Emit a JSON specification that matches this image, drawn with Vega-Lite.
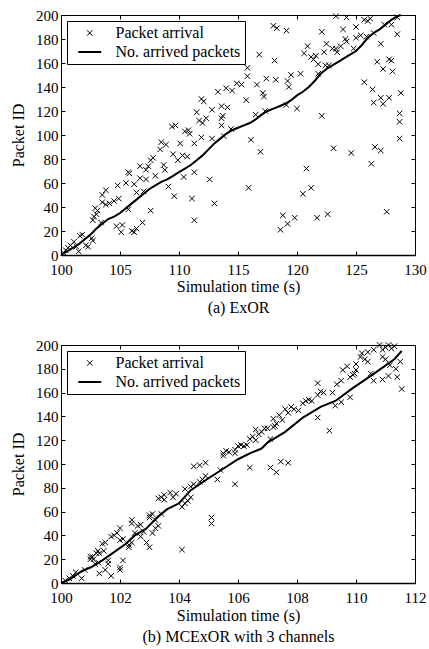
{
  "$schema": "https://vega.github.io/schema/vega-lite/v6.json",
  "padding": {"left": 10, "top": 7, "right": 3, "bottom": 2},
  "background": "white",
  "spacing": 21,
  "resolve": {"scale": {"shape": "independent", "size": "independent", "strokeWidth": "independent"}, "legend": {"shape": "independent", "size": "independent", "strokeWidth": "independent"}},
  "config": {
    "font": "Liberation Serif",
    "view": {"stroke": "black", "strokeWidth": 1},
    "axis": {
      "labelFont": "Liberation Serif", "titleFont": "Liberation Serif",
      "labelFontSize": 15, "titleFontSize": 16, "titleFontWeight": "normal",
      "labelColor": "black", "titleColor": "black", "grid": false, "domain": false,
      "tickColor": "black", "tickSize": -4, "tickWidth": 1, "labelFlush": false
    },
    "axisBottom": {"labelPadding": 11.5, "titlePadding": 1, "titleLineHeight": 21, "domain": true, "domainColor": "black", "domainWidth": 1.5},
    "axisLeft": {"labelPadding": 7, "titlePadding": 9},
    "legend": {
      "orient": "top-left", "offset": 6, "strokeColor": "black", "fillColor": "white",
      "padding": 4, "labelFont": "Liberation Serif", "labelFontSize": 16, "labelColor": "black",
      "symbolOffset": 10.75, "labelOffset": 17.75, "rowPadding": 3, "title": null
    }
  },
  "datasets": {
    "top_pts": [
      {"t":111.9,"id":130},{"t":112.1,"id":128},{"t":111.5,"id":119},{"t":111.7,"id":112},{"t":112.0,"id":110},{"t":112.3,"id":114},{"t":112.8,"id":121},{"t":113.6,"id":124},{"t":114.1,"id":123},{"t":113.6,"id":114},{"t":113.7,"id":116},{"t":113.6,"id":108},{"t":113.3,"id":136},{"t":114.0,"id":139},{"t":114.5,"id":137},{"t":114.9,"id":143},{"t":109.4,"id":107},{"t":109.7,"id":108},{"t":110.5,"id":103},{"t":110.8,"id":104},{"t":110.9,"id":101},{"t":111.3,"id":93},{"t":111.9,"id":98},{"t":112.8,"id":97},{"t":113.8,"id":99},{"t":114.4,"id":105},{"t":110.1,"id":93},{"t":108.5,"id":94},{"t":108.9,"id":92},{"t":109.5,"id":84},{"t":109.9,"id":79},{"t":110.3,"id":83},{"t":110.7,"id":82},{"t":108.4,"id":88},{"t":107.8,"id":81},{"t":107.6,"id":79},{"t":107.4,"id":74},{"t":106.7,"id":74},{"t":107.2,"id":71},{"t":108.7,"id":75},{"t":108.8,"id":71},{"t":108.0,"id":66},{"t":105.7,"id":69},{"t":105.8,"id":68},{"t":105.5,"id":60},{"t":106.2,"id":59},{"t":106.7,"id":64},{"t":107.2,"id":63},{"t":106.4,"id":52},{"t":107.0,"id":53},{"t":104.8,"id":58},{"t":103.5,"id":50},{"t":103.8,"id":54},{"t":110.4,"id":65},{"t":111.3,"id":69},{"t":112.6,"id":63},{"t":109.1,"id":57},{"t":109.6,"id":49},{"t":111.1,"id":47},{"t":113.0,"id":43},{"t":111.3,"id":29},{"t":107.6,"id":37},{"t":105.7,"id":38},{"t":103.5,"id":44},{"t":103.8,"id":42},{"t":104.1,"id":43},{"t":104.5,"id":45},{"t":104.9,"id":47},{"t":102.9,"id":39},{"t":103.1,"id":37},{"t":103.0,"id":34},{"t":102.7,"id":29},{"t":102.8,"id":32},{"t":103.4,"id":27},{"t":104.7,"id":24},{"t":105.2,"id":25},{"t":105.1,"id":19},{"t":106.0,"id":20},{"t":106.2,"id":19},{"t":106.4,"id":22},{"t":106.9,"id":27},{"t":101.8,"id":17},{"t":101.6,"id":16},{"t":101.1,"id":11},{"t":100.8,"id":8},{"t":101.3,"id":7},{"t":102.1,"id":8},{"t":102.6,"id":14},{"t":102.7,"id":12},{"t":100.4,"id":4},{"t":100.6,"id":6},{"t":101.5,"id":3},{"t":102.3,"id":7},{"t":100.2,"id":2},
      {"t":123.3,"id":199},{"t":124.2,"id":198},{"t":125.7,"id":196},{"t":126.0,"id":195},{"t":126.2,"id":197},{"t":127.4,"id":192},{"t":128.0,"id":192},{"t":128.5,"id":198},{"t":118.0,"id":191},{"t":118.3,"id":189},{"t":119.1,"id":187},{"t":122.1,"id":186},{"t":123.9,"id":188},{"t":125.0,"id":190},{"t":124.1,"id":180},{"t":124.2,"id":178},{"t":125.0,"id":181},{"t":125.4,"id":183},{"t":125.9,"id":182},{"t":126.5,"id":185},{"t":128.5,"id":184},{"t":120.9,"id":174},{"t":122.5,"id":176},{"t":123.0,"id":172},{"t":123.3,"id":172},{"t":123.7,"id":174},{"t":123.4,"id":169},{"t":124.8,"id":172},{"t":127.1,"id":176},{"t":120.6,"id":168},{"t":121.2,"id":165},{"t":121.6,"id":166},{"t":121.4,"id":163},{"t":122.3,"id":169},{"t":116.8,"id":167},{"t":118.1,"id":162},{"t":121.8,"id":159},{"t":122.4,"id":158},{"t":122.7,"id":158},{"t":126.8,"id":161},{"t":127.3,"id":155},{"t":127.8,"id":163},{"t":128.0,"id":162},{"t":128.1,"id":153},{"t":115.8,"id":156},{"t":115.8,"id":149},{"t":115.3,"id":142},{"t":116.6,"id":142},{"t":117.4,"id":147},{"t":118.2,"id":146},{"t":119.2,"id":145},{"t":119.3,"id":140},{"t":119.5,"id":150},{"t":120.3,"id":151},{"t":121.8,"id":151},{"t":117.1,"id":135},{"t":117.2,"id":132},{"t":115.7,"id":129},{"t":116.5,"id":117},{"t":117.3,"id":120},{"t":119.1,"id":125},{"t":120.0,"id":122},{"t":122.1,"id":116},{"t":125.7,"id":144},{"t":126.4,"id":138},{"t":126.5,"id":127},{"t":127.1,"id":131},{"t":127.3,"id":126},{"t":127.8,"id":131},{"t":128.8,"id":135},{"t":128.7,"id":118},{"t":128.7,"id":111},{"t":128.7,"id":97},{"t":116.1,"id":96},{"t":116.9,"id":86},{"t":123.1,"id":89},{"t":124.6,"id":85},{"t":126.6,"id":90},{"t":127.1,"id":87},{"t":126.3,"id":76},{"t":120.8,"id":72},{"t":115.9,"id":56},{"t":120.5,"id":51},{"t":121.2,"id":56},{"t":118.8,"id":33},{"t":119.2,"id":26},{"t":118.6,"id":21},{"t":119.8,"id":31},{"t":121.7,"id":31},{"t":122.6,"id":34},{"t":127.6,"id":36}
    ],
    "top_line": [
      {"t":100,"id":0},{"t":100.5,"id":3},{"t":101,"id":6},{"t":101.5,"id":9},{"t":102,"id":13},{"t":102.5,"id":17},{"t":103,"id":22},{"t":103.5,"id":26},{"t":104,"id":30},{"t":104.5,"id":32},{"t":105,"id":35},{"t":105.5,"id":39},{"t":106,"id":43},{"t":106.5,"id":47},{"t":107,"id":51},{"t":107.5,"id":55},{"t":108,"id":58},{"t":108.5,"id":61},{"t":109,"id":63},{"t":109.5,"id":66},{"t":110,"id":69},{"t":110.5,"id":72},{"t":111,"id":75},{"t":111.5,"id":79},{"t":112,"id":83},{"t":112.5,"id":88},{"t":113,"id":93},{"t":113.5,"id":97},{"t":114,"id":101},{"t":114.5,"id":104},{"t":115,"id":106},{"t":115.5,"id":108},{"t":116,"id":110},{"t":116.5,"id":113},{"t":117,"id":117},{"t":117.5,"id":120},{"t":118,"id":122},{"t":118.5,"id":124},{"t":119,"id":126},{"t":119.5,"id":129},{"t":120,"id":133},{"t":120.5,"id":136},{"t":121,"id":140},{"t":121.5,"id":145},{"t":122,"id":151},{"t":122.5,"id":155},{"t":123,"id":158},{"t":123.5,"id":161},{"t":124,"id":164},{"t":124.5,"id":167},{"t":125,"id":170},{"t":125.5,"id":175},{"t":126,"id":181},{"t":126.5,"id":185},{"t":127,"id":188},{"t":127.5,"id":192},{"t":128,"id":196},{"t":128.5,"id":199},{"t":128.8,"id":200}
    ],
    "bot_pts": [
      {"t":100.14,"id":2},{"t":100.28,"id":4},{"t":100.4,"id":6},{"t":100.5,"id":9},{"t":100.7,"id":4},{"t":100.8,"id":11},{"t":101.0,"id":20},{"t":101.06,"id":22},{"t":101.1,"id":20},{"t":101.2,"id":25},{"t":101.25,"id":27},{"t":101.16,"id":16},{"t":101.27,"id":17},{"t":101.3,"id":8},{"t":101.5,"id":11},{"t":101.6,"id":16},{"t":101.6,"id":19},{"t":101.45,"id":27},{"t":101.4,"id":33},{"t":101.5,"id":34},{"t":101.7,"id":39},{"t":101.8,"id":40},{"t":101.7,"id":6},{"t":101.9,"id":42},{"t":102.0,"id":46},{"t":102.0,"id":13},{"t":102.0,"id":11},{"t":102.1,"id":19},{"t":102.3,"id":32},{"t":102.3,"id":30},{"t":102.4,"id":53},{"t":102.4,"id":50},{"t":102.4,"id":34},{"t":102.6,"id":48},{"t":102.7,"id":49},{"t":102.8,"id":43},{"t":102.9,"id":34},{"t":103.0,"id":30},{"t":103.0,"id":55},{"t":103.0,"id":57},{"t":103.1,"id":58},{"t":103.2,"id":53},{"t":103.3,"id":48},{"t":103.4,"id":58},{"t":103.3,"id":71},{"t":103.4,"id":72},{"t":103.5,"id":70},{"t":103.2,"id":46},{"t":103.1,"id":42},{"t":103.5,"id":74},{"t":103.7,"id":76},{"t":103.8,"id":72},{"t":103.9,"id":75},{"t":104.1,"id":28},{"t":104.2,"id":67},{"t":104.1,"id":64},{"t":104.3,"id":69},{"t":104.4,"id":72},{"t":104.2,"id":79},{"t":104.4,"id":81},{"t":104.5,"id":83},{"t":104.7,"id":85},{"t":104.8,"id":87},{"t":104.9,"id":90},{"t":104.5,"id":98},{"t":104.7,"id":99},{"t":104.9,"id":101},{"t":105.1,"id":55},{"t":105.1,"id":50},{"t":105.3,"id":87},{"t":105.4,"id":95},{"t":105.5,"id":109},{"t":105.6,"id":111},{"t":105.7,"id":110},{"t":105.9,"id":112},{"t":105.9,"id":109},{"t":105.9,"id":83},{"t":105.5,"id":107},{"t":102.0,"id":36},{"t":102.1,"id":37},{"t":101.0,"id":22},{"t":101.3,"id":25},{"t":102.5,"id":42},{"t":102.7,"id":39},
      {"t":106.0,"id":115},{"t":106.1,"id":116},{"t":106.2,"id":115},{"t":106.3,"id":116},{"t":106.4,"id":121},{"t":106.5,"id":123},{"t":106.6,"id":120},{"t":106.6,"id":129},{"t":106.7,"id":125},{"t":106.8,"id":127},{"t":106.9,"id":130},{"t":107.0,"id":130},{"t":107.1,"id":121},{"t":107.2,"id":131},{"t":107.25,"id":132},{"t":107.3,"id":134},{"t":107.2,"id":138},{"t":107.4,"id":141},{"t":107.5,"id":137},{"t":107.6,"id":146},{"t":107.7,"id":143},{"t":107.8,"id":148},{"t":107.9,"id":146},{"t":108.05,"id":145},{"t":108.2,"id":151},{"t":108.3,"id":153},{"t":108.4,"id":154},{"t":108.5,"id":153},{"t":108.7,"id":158},{"t":108.7,"id":168},{"t":108.8,"id":161},{"t":108.9,"id":160},{"t":108.7,"id":139},{"t":109.1,"id":128},{"t":109.2,"id":160},{"t":109.35,"id":167},{"t":109.5,"id":170},{"t":109.3,"id":149},{"t":109.5,"id":152},{"t":109.8,"id":156},{"t":109.55,"id":179},{"t":109.7,"id":182},{"t":109.8,"id":173},{"t":109.9,"id":175},{"t":109.95,"id":176},{"t":110.0,"id":179},{"t":110.0,"id":184},{"t":110.15,"id":190},{"t":110.2,"id":193},{"t":110.3,"id":188},{"t":110.4,"id":186},{"t":110.4,"id":194},{"t":110.6,"id":196},{"t":110.6,"id":170},{"t":110.5,"id":176},{"t":110.8,"id":200},{"t":110.9,"id":196},{"t":111.0,"id":198},{"t":111.1,"id":200},{"t":111.2,"id":197},{"t":111.3,"id":199},{"t":110.9,"id":190},{"t":111.0,"id":188},{"t":111.1,"id":174},{"t":110.9,"id":171},{"t":111.15,"id":183},{"t":111.35,"id":180},{"t":111.4,"id":173},{"t":111.5,"id":186},{"t":111.55,"id":163},{"t":106.4,"id":97},{"t":107.1,"id":97},{"t":107.3,"id":93},{"t":107.45,"id":102},{"t":107.7,"id":101}
    ],
    "bot_line": [
      {"t":100,"id":0},{"t":100.3,"id":3},{"t":100.7,"id":10},{"t":101,"id":13},{"t":101.4,"id":19},{"t":101.8,"id":26},{"t":102.2,"id":33},{"t":102.5,"id":40},{"t":102.9,"id":46},{"t":103.3,"id":56},{"t":103.6,"id":62},{"t":104,"id":67},{"t":104.4,"id":78},{"t":105,"id":88},{"t":105.5,"id":96},{"t":106,"id":104},{"t":106.4,"id":109},{"t":106.8,"id":113},{"t":107,"id":118},{"t":107.6,"id":127},{"t":108.2,"id":139},{"t":108.8,"id":148},{"t":109.3,"id":153},{"t":109.9,"id":164},{"t":110.5,"id":174},{"t":110.9,"id":181},{"t":111.3,"id":188},{"t":111.55,"id":195}
    ]
  },
  "vconcat": [
    {
      "width": 354, "height": 240,
      "layer": [
        {
          "data": {"name": "top_pts"},
          "mark": {"type": "point", "filled": false, "color": "black", "opacity": 1},
          "encoding": {
            "x": {"field": "t", "type": "quantitative", "scale": {"domain": [100, 130], "nice": false, "zero": false},
                  "axis": {"orient": "bottom", "values": [100,105,110,115,120,125,130], "title": ["Simulation time (s)", "(a) ExOR"]}},
            "y": {"field": "id", "type": "quantitative", "scale": {"domain": [0, 200], "nice": false},
                  "axis": {"orient": "left", "values": [0,20,40,60,80,100,120,140,160,180,200], "title": "Packet ID"}},
            "shape": {"datum": "Packet arrival", "type": "nominal",
                      "scale": {"domain": ["Packet arrival", "No. arrived packets"], "range": ["M-1,-1L1,1M-1,1L1,-1", "M-2,0L2,0"]}},
            "size": {"datum": "Packet arrival", "type": "nominal",
                      "scale": {"domain": ["Packet arrival", "No. arrived packets"], "range": [30, 132]}},
            "strokeWidth": {"datum": "Packet arrival", "type": "nominal",
                      "scale": {"domain": ["Packet arrival", "No. arrived packets"], "range": [1, 2]}}
          }
        },
        {
          "data": {"name": "top_line"},
          "mark": {"type": "line", "color": "black", "strokeWidth": 2},
          "encoding": {
            "x": {"field": "t", "type": "quantitative", "axis": {"orient": "top", "labels": false, "title": null, "domain": false, "values": [100,105,110,115,120,125,130]}},
            "y": {"field": "id", "type": "quantitative", "axis": {"orient": "right", "labels": false, "title": null, "values": [0,20,40,60,80,100,120,140,160,180,200]}}
          }
        }
      ]
    },
    {
      "width": 354, "height": 238,
      "layer": [
        {
          "data": {"name": "bot_pts"},
          "mark": {"type": "point", "filled": false, "color": "black", "opacity": 1},
          "encoding": {
            "x": {"field": "t", "type": "quantitative", "scale": {"domain": [100, 112], "nice": false, "zero": false},
                  "axis": {"orient": "bottom", "values": [100,102,104,106,108,110,112], "titlePadding": 2, "titleLineHeight": 21, "title": ["Simulation time (s)", "(b) MCExOR with 3 channels"]}},
            "y": {"field": "id", "type": "quantitative", "scale": {"domain": [0, 200], "nice": false},
                  "axis": {"orient": "left", "values": [0,20,40,60,80,100,120,140,160,180,200], "title": "Packet ID"}},
            "shape": {"datum": "Packet arrival", "type": "nominal",
                      "scale": {"domain": ["Packet arrival", "No. arrived packets"], "range": ["M-1,-1L1,1M-1,1L1,-1", "M-2,0L2,0"]}},
            "size": {"datum": "Packet arrival", "type": "nominal",
                      "scale": {"domain": ["Packet arrival", "No. arrived packets"], "range": [30, 132]}},
            "strokeWidth": {"datum": "Packet arrival", "type": "nominal",
                      "scale": {"domain": ["Packet arrival", "No. arrived packets"], "range": [1, 2]}}
          }
        },
        {
          "data": {"name": "bot_line"},
          "mark": {"type": "line", "color": "black", "strokeWidth": 2},
          "encoding": {
            "x": {"field": "t", "type": "quantitative", "axis": {"orient": "top", "labels": false, "title": null, "domain": false, "values": [100,102,104,106,108,110,112]}},
            "y": {"field": "id", "type": "quantitative", "axis": {"orient": "right", "labels": false, "title": null, "values": [0,20,40,60,80,100,120,140,160,180,200]}}
          }
        }
      ]
    }
  ]
}
